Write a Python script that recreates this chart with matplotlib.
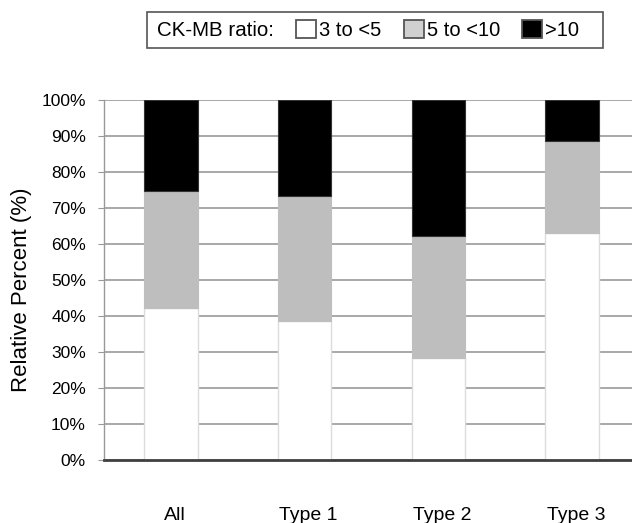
import matplotlib
matplotlib.use("Agg")
import matplotlib.pyplot as plt
from matplotlib.patches import Patch, Rectangle
import numpy as np

plt.rcParams['font.family'] = ['Liberation Sans', 'DejaVu Sans']

# data (percent of each group)
groups = ["All", "Type 1", "Type 2", "Type 3"]
low = [42.2, 38.6, 28.2, 63.1]        # 3 to <5
mid = [32.6, 34.7, 34.1, 25.5]        # 5 to <10
high = [25.2, 26.7, 37.7, 11.4]       # >10
legend_labels = ["3 to <5", "5 to <10", ">10"]
y_ticks = [0, 10, 20, 30, 40, 50, 60, 70, 80, 90, 100]

fig = plt.figure(figsize=(6.32, 5.23), dpi=100)
ax = fig.add_axes([104 / 632, 1 - 460 / 523, 535 / 632, 360 / 523])

x = np.arange(len(groups))
w = 0.40
low = np.array(low)
mid = np.array(mid)
high = np.array(high)

ax.bar(x, low, w, color="white", edgecolor="#dcdcdc", linewidth=1, zorder=3)
ax.bar(x, mid, w, bottom=low, color="#bebebe", edgecolor="#bebebe", linewidth=0.8, zorder=3)
ax.bar(x, high, w, bottom=low + mid, color="black", edgecolor="#333333", linewidth=0.8, zorder=3)

ax.set_xlim(-0.5, 3.5)
ax.set_ylim(0, 100)
ax.set_yticks(y_ticks)
ax.set_yticklabels(["{}%".format(t) for t in y_ticks], fontsize=12.5)
ax.set_xticks(x + 0.03)
ax.set_xticklabels(groups, fontsize=14)
ax.tick_params(axis="x", length=0, pad=34)
ax.tick_params(axis="y", length=4, color="#999999", pad=9)

ax.yaxis.grid(True, color="#9a9a9a", linewidth=1.2, zorder=0)
ax.set_axisbelow(True)
for s in ["top", "right"]:
    ax.spines[s].set_visible(False)
ax.spines["left"].set_color("#999999")
ax.spines["left"].set_linewidth(1)
ax.spines["bottom"].set_color("#404040")
ax.spines["bottom"].set_linewidth(2)
ax.spines["bottom"].set_zorder(4)

fig.text(22 / 632, 1 - 290 / 523, "Relative Percent (%)", rotation=90,
         fontsize=16, ha="center", va="center")

# legend box with inline title
fig.patches.append(Rectangle((147 / 632, 1 - 48 / 523), 456 / 632, 36 / 523,
                             transform=fig.transFigure, fill=False,
                             edgecolor="#555555", linewidth=1.2))
fig.text(157 / 632, 1 - 30 / 523, "CK-MB ratio:", fontsize=14.8, ha="left", va="center")
handles = [Patch(facecolor="white", edgecolor="#555555", linewidth=1.3),
           Patch(facecolor="#d0d0d0", edgecolor="#555555", linewidth=1.3),
           Patch(facecolor="black", edgecolor="#555555", linewidth=1.3)]
fig.legend(handles, legend_labels, loc="center left",
           bbox_to_anchor=(296 / 632, 1 - 30 / 523), ncol=3, frameon=False,
           fontsize=14.5, handlelength=1.0, handleheight=1.0, handletextpad=0.15,
           columnspacing=1.1, borderpad=0, borderaxespad=0)

fig.savefig("out.png", dpi=100)
